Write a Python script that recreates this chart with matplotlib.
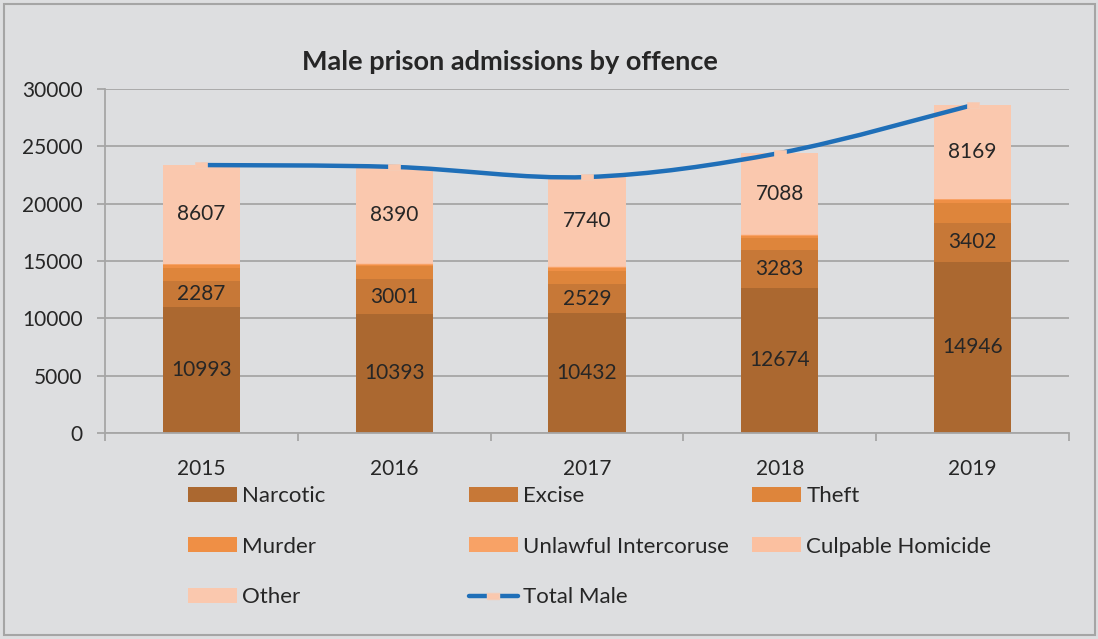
import numpy as np
import matplotlib.pyplot as plt
from matplotlib.path import Path
from matplotlib.patches import PathPatch, Rectangle, Patch
from matplotlib.lines import Line2D

plt.rcParams['font.family'] = ['Lato', 'DejaVu Sans']

# Data: male prison admissions by offence
years = ['2015', '2016', '2017', '2018', '2019']
narcotic = [10993, 10393, 10432, 12674, 14946]
excise = [2287, 3001, 2529, 3283, 3402]
theft = [1100, 1150, 1150, 1050, 1750]
murder = [250, 150, 280, 150, 180]
unlawful = [80, 70, 120, 100, 90]
culpable = [50, 50, 70, 75, 60]
other = [8607, 8390, 7740, 7088, 8169]

series = [('Narcotic', narcotic, '#AB6830'),
          ('Excise', excise, '#C77837'),
          ('Theft', theft, '#DE853B'),
          ('Murder', murder, '#EF8F45'),
          ('Unlawful Intercoruse', unlawful, '#F8A266'),
          ('Culpable Homicide', culpable, '#FBC0A0'),
          ('Other', other, '#FAC8AE')]
labelled = ['Narcotic', 'Excise', 'Other']

bg = '#DDDEE0'
txt = '#262626'
fig = plt.figure(figsize=(10.98, 6.39), dpi=100, facecolor=bg)
ax = fig.add_axes([105 / 1098, 1 - 433 / 639, (1069 - 105) / 1098, (433 - 89) / 639])
ax.set_facecolor(bg)

x = np.arange(len(years))
bottom = np.zeros(len(years))
handles = {}
for name, vals, col in series:
    vals = np.array(vals, dtype=float)
    ax.bar(x, vals, 0.4, bottom=bottom, color=col, zorder=2)
    if name in labelled:
        for xi, b, v in zip(x, bottom, vals):
            ax.text(xi, b + v / 2, str(int(v)), ha='center', va='center',
                    fontsize=15, color=txt, zorder=3)
    handles[name] = Patch(facecolor=col)
    bottom += vals
total = bottom

# smoothed total line (Catmull-Rom as cubic bezier, like Excel smoothing)
pts = np.column_stack([x, total])
ext = np.vstack([pts[0], pts, pts[-1]])
verts = [pts[0]]
codes = [Path.MOVETO]
for i in range(len(pts) - 1):
    p0, p1, p2, p3 = ext[i], ext[i + 1], ext[i + 2], ext[i + 3]
    verts += [p1 + (p2 - p0) / 6, p2 - (p3 - p1) / 6, p2]
    codes += [Path.CURVE4] * 3
ax.add_patch(PathPatch(Path(verts, codes), facecolor='none', edgecolor='#1F6FB8',
                       lw=3.2, zorder=4, capstyle='round'))
mk = [(-2, -1), (2, -1), (2, 1), (-2, 1), (-2, -1)]
ax.plot(x, total, linestyle='none', marker=mk, markersize=9,
        markerfacecolor='#FAC8AE', markeredgecolor='#F4CDB8', markeredgewidth=0.5, zorder=5)
handles['Total Male'] = Line2D([], [], color='#1F6FB8', lw=3.2, marker=mk, markersize=9,
                               markerfacecolor='#FAC8AE', markeredgecolor='#F4CDB8',
                               solid_capstyle='round')

ax.set_xlim(-0.5, 4.5)
ax.set_ylim(0, 30000)
ax.set_yticks(range(0, 30001, 5000))
ax.yaxis.grid(True, color='#A6A6A6', lw=1.3, zorder=0)
ax.set_xticks(x)
ax.set_xticklabels(years)
ax.set_xticks(np.arange(-0.5, 5, 1), minor=True)
ax.tick_params(axis='x', which='major', length=0, pad=19, labelsize=15, labelcolor=txt)
ax.tick_params(axis='x', which='minor', length=6, color='#A6A6A6', width=1.3)
ax.tick_params(axis='y', length=6, color='#A6A6A6', width=1.3, pad=10, labelsize=15,
               labelcolor=txt)
for s in ['top', 'right']:
    ax.spines[s].set_visible(False)
for s in ['left', 'bottom']:
    ax.spines[s].set_color('#A6A6A6')
    ax.spines[s].set_linewidth(1.3)

fig.text(510 / 1098, 1 - 62 / 639, 'Male prison admissions by offence', ha='center',
         va='center', fontsize=19.5, fontweight='bold', color=txt)

# legend laid out as three columns, row by row like the original
cols = [(['Narcotic', 'Murder', 'Other'], 188),
        (['Excise', 'Unlawful Intercoruse', 'Total Male'], 469),
        (['Theft', 'Culpable Homicide'], 752)]
for names, px in cols:
    leg = fig.legend([handles[n] for n in names], names, loc='upper left',
                     bbox_to_anchor=(px / 1098, 1 - 486 / 639), bbox_transform=fig.transFigure,
                     frameon=False, fontsize=16, borderpad=0, borderaxespad=0,
                     handlelength=2.2, handleheight=0.65, handletextpad=0.25,
                     labelspacing=1.38, numpoints=1)
    for t in leg.get_texts():
        t.set_color(txt)

fig.patches.append(Rectangle((4 / 1098, 4 / 639), 1091 / 1098, 631 / 639, fill=False,
                             edgecolor='#A5A5A5', lw=1.5, transform=fig.transFigure))

fig.savefig('out.png', dpi=100, facecolor=bg)
